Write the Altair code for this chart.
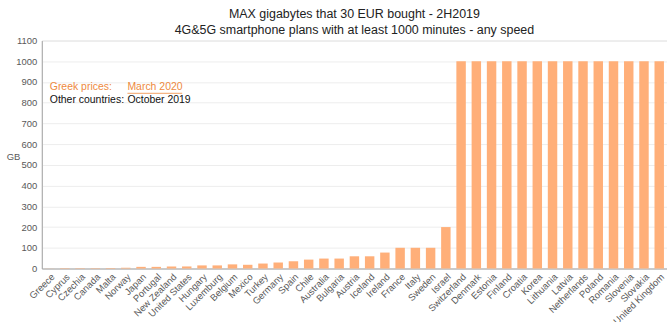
import altair as alt
import pandas as pd

countries = ["Greece", "Cyprus", "Czechia", "Canada", "Malta", "Norway", "Japan", "Portugal",
             "New Zealand", "United States", "Hungary", "Luxemburg", "Belgium", "Mexico", "Turkey",
             "Germany", "Spain", "Chile", "Australia", "Bulgaria", "Austria", "Iceland", "Ireland",
             "France", "Italy", "Sweden", "Israel", "Switzerland", "Denmark", "Estonia", "Finland",
             "Croatia", "Korea", "Lithuania", "Latvia", "Netherlands", "Poland", "Romania",
             "Slovenia", "Slovakia", "United Kingdom"]
gigabytes = [0.5, 2, 2, 2, 2.5, 4, 8, 8, 10, 10, 15, 15, 20, 18, 24, 29, 35, 43, 48, 48, 59, 59,
             77, 100, 100, 100, 200, 1000, 1000, 1000, 1000, 1000, 1000, 1000, 1000, 1000, 1000,
             1000, 1000, 1000, 1000]
y_ticks = list(range(0, 1101, 100))

df = pd.DataFrame({"country": countries, "gb": gigabytes})

FONT = "Liberation Sans"
BAR = "#FFAF79"
ORANGE = "#EE8A3E"
GRAY = "#595959"

bars = alt.Chart(df).mark_bar(color=BAR).encode(
    x=alt.X("country:N", sort=countries,
            scale=alt.Scale(paddingInner=0.38, paddingOuter=0.2),
            axis=alt.Axis(title=None, labelAngle=-45, labelFontSize=9.5, labelColor=GRAY,
                          labelFont=FONT, ticks=False, domainColor="#A6A6A6",
                          labelPadding=3, labelAlign="right", labelBaseline="top")),
    y=alt.Y("gb:Q", scale=alt.Scale(domain=[0, 1100], nice=False),
            axis=alt.Axis(values=y_ticks, format="d", title="GB", titleAngle=0, titleFontSize=9.5,
                          titleFontWeight="normal", titleColor=GRAY, titleFont=FONT,
                          titleX=-29, titleY=121, titleAlign="center",
                          labelFontSize=9.5, labelColor=GRAY, labelFont=FONT, ticks=False,
                          labelPadding=5, domainColor="#A6A6A6",
                          gridColor="#EDEDED", gridWidth=1)),
)

notes = pd.DataFrame({
    "label": ["Greek prices:", "March 2020", "Other countries:", "October 2019"],
    "px": [8, 86, 8, 86],
    "py": [50, 50, 63, 63],
    "col": [ORANGE, ORANGE, "#111111", "#111111"],
})
note_text = alt.Chart(notes).mark_text(align="left", baseline="alphabetic", fontSize=10.5,
                                       font=FONT).encode(
    x=alt.X("px:Q", scale=None), y=alt.Y("py:Q", scale=None),
    text="label:N", color=alt.Color("col:N", scale=None))

underline = alt.Chart(pd.DataFrame({"a": [0]})).mark_rule(color=ORANGE, strokeWidth=0.8).encode(
    x=alt.value(86), x2=alt.value(141), y=alt.value(53))

chart = alt.layer(bars, note_text, underline).properties(
    width=628, height=229,
    title=alt.TitleParams(
        text=["MAX gigabytes that 30 EUR bought  - 2H2019",
              "4G&5G smartphone plans with at least 1000 minutes  - any speed"],
        fontSize=12.5, font=FONT, fontWeight="normal", color="#222222",
        lineHeight=16, anchor="middle", offset=-1),
    autosize=alt.AutoSizeParams(type="none"),
    padding={"left": 42, "top": 40, "right": 0, "bottom": 53},
).configure_view(stroke=None).configure(background="white")

chart.save("out.html", embed_options={"renderer": "svg", "actions": False})
